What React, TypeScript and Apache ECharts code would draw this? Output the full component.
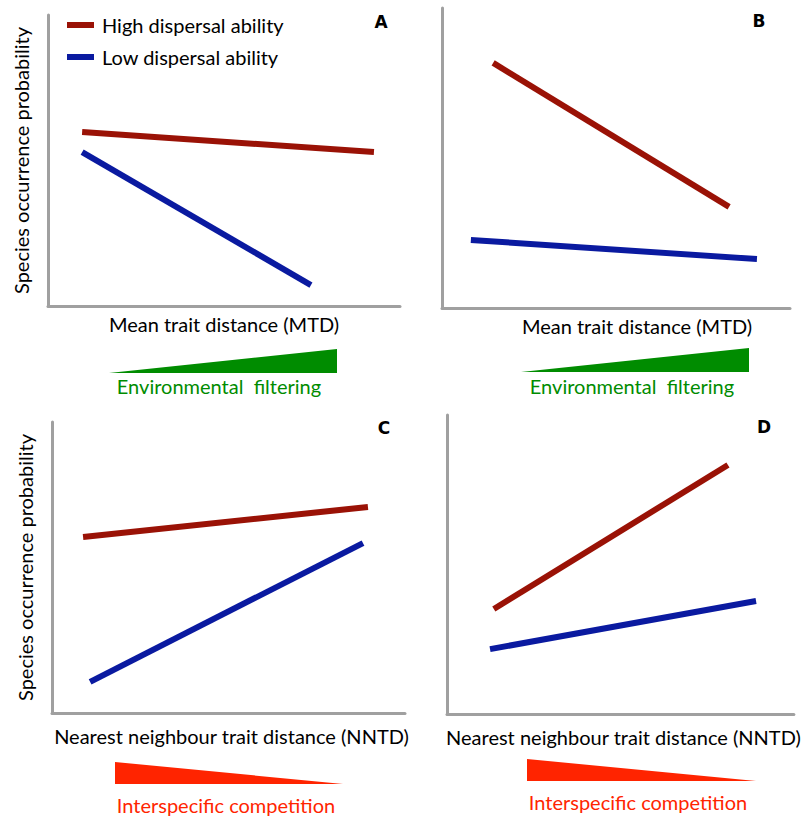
import React, { useEffect, useRef } from "react";
import * as echarts from "echarts";

// Series names
const seriesNames = ["High dispersal ability", "Low dispersal ability"];
// Panel letters
const panelLetters = ["A", "B", "C", "D"];
// Axis titles
const xTitles = [
  "Mean trait distance (MTD)",
  "Mean trait distance (MTD)",
  "Nearest neighbour trait distance (NNTD)",
  "Nearest neighbour trait distance (NNTD)",
];
const yTitle = "Species occurrence probability";
const gradientLabels = [
  "Environmental  filtering",
  "Environmental  filtering",
  "Interspecific competition",
  "Interspecific competition",
];

// Line endpoints per panel, axis units 0..10 ([x, y])
const highA = [[0.97, 5.98], [9.26, 5.29]];
const lowA = [[0.97, 5.29], [7.47, 0.72]];
const highB = [[1.47, 8.17], [8.25, 3.37]];
const lowB = [[0.83, 2.27], [9.05, 1.63]];
const highC = [[0.88, 6.05], [8.95, 7.08]];
const lowC = [[1.08, 1.07], [8.81, 5.84]];
const highD = [[1.35, 3.51], [8.1, 8.33]];
const lowD = [[1.24, 2.17], [8.91, 3.78]];

const highSeries = [highA, highB, highC, highD];
const lowSeries = [lowA, lowB, lowC, lowD];

const RED = "#9a1206";
const BLUE = "#0a1aa0";
const GREEN = "#008c00";
const BRIGHT = "#ff2400";
const AXIS = "#a0a0a0";
const FONT = "Lato, 'Open Sans', sans-serif";
const FS = 20;

const W = 803;
const H = 819;
const gridBoxes = [
  { x0: 48, y0: 15, x1: 400, y1: 306 },
  { x0: 442, y0: 8, x1: 790, y1: 308 },
  { x0: 52, y0: 422, x1: 405, y1: 713 },
  { x0: 447, y0: 415, x1: 795, y1: 714 },
];

export default function App() {
  const ref = useRef<HTMLDivElement>(null);
  useEffect(() => {
    if (!ref.current) return;
    const chart = echarts.init(ref.current, null, { renderer: "svg" });

    const grid = gridBoxes.map((b) => ({
      left: b.x0,
      top: b.y0,
      width: b.x1 - b.x0,
      height: b.y1 - b.y0,
    }));

    const axisLine = { show: true, lineStyle: { color: AXIS, width: 3 } };

    const xAxis = gridBoxes.map((b, i) => ({
      type: "value",
      gridIndex: i,
      min: 0,
      max: 10,
      axisLine,
      axisTick: { show: false },
      axisLabel: { show: false },
      splitLine: { show: false },
      name: xTitles[i],
      nameLocation: "middle",
      nameGap: i >= 2 ? 13 : 8,
      nameTextStyle: {
        fontFamily: FONT,
        fontSize: FS,
        color: "#000",
        padding: i === 1 ? [0, 0, 0, 42] : i === 0 ? [0, 0, 0, 0] : [0, 0, 0, 6],
      },
    }));

    const yAxis = gridBoxes.map((b, i) => ({
      type: "value",
      gridIndex: i,
      min: 0,
      max: 10,
      axisLine,
      axisTick: { show: false },
      axisLabel: { show: false },
      splitLine: { show: false },
      name: i % 2 === 0 ? yTitle : "",
      nameLocation: "middle",
      nameRotate: 90,
      nameGap: 17,
      nameTextStyle: { fontFamily: FONT, fontSize: FS, color: "#000" },
    }));

    const series: any[] = [];
    for (let i = 0; i < 4; i++) {
      series.push({
        type: "line",
        name: seriesNames[0],
        xAxisIndex: i,
        yAxisIndex: i,
        data: highSeries[i],
        symbol: "none",
        color: RED,
        lineStyle: { color: RED, width: 6, cap: "butt" },
      });
      series.push({
        type: "line",
        name: seriesNames[1],
        xAxisIndex: i,
        yAxisIndex: i,
        data: lowSeries[i],
        symbol: "none",
        color: BLUE,
        lineStyle: { color: BLUE, width: 6, cap: "butt" },
      });
    }

    const letterPos = [
      [381, 22],
      [759, 21],
      [384, 428],
      [764, 427],
    ];

    const trianglesUp = [
      [[109, 373], [337, 373], [337, 349]],
      [[521, 372], [749, 372], [749, 348]],
    ];
    const trianglesDown = [
      [[115, 762], [115, 784], [343, 784]],
      [[527, 759], [527, 781], [756, 781]],
    ];
    const gradTextPos = [
      [219, 386],
      [632, 386],
      [226, 805],
      [638, 802],
    ];

    const graphic: any[] = [];
    letterPos.forEach((p, i) =>
      graphic.push({
        type: "text",
        x: p[0],
        y: p[1],
        style: {
          text: panelLetters[i],
          fontFamily: "'DejaVu Sans', Arial, sans-serif",
          fontWeight: "bold",
          fontSize: 17,
          fill: "#000",
          align: "center",
          verticalAlign: "middle",
        },
      })
    );
    trianglesUp.forEach((pts) =>
      graphic.push({ type: "polygon", shape: { points: pts }, style: { fill: GREEN } })
    );
    trianglesDown.forEach((pts) =>
      graphic.push({ type: "polygon", shape: { points: pts }, style: { fill: BRIGHT } })
    );
    gradTextPos.forEach((p, i) =>
      graphic.push({
        type: "text",
        x: p[0],
        y: p[1],
        style: {
          text: gradientLabels[i],
          fontFamily: FONT,
          fontSize: FS,
          fill: i < 2 ? GREEN : BRIGHT,
          align: "center",
          verticalAlign: "middle",
        },
      })
    );

    chart.setOption({
      animation: false,
      backgroundColor: "#fff",
      grid,
      xAxis,
      yAxis,
      legend: {
        left: 62,
        top: 10,
        orient: "vertical",
        itemGap: 12,
        icon: "rect",
        itemWidth: 27,
        itemHeight: 6,
        selectedMode: false,
        data: seriesNames,
        textStyle: {
          fontFamily: FONT,
          fontSize: FS,
          color: "#000",
          padding: [0, 0, 9, 3],
        },
      },
      series,
      graphic,
    });

    return () => chart.dispose();
  }, []);

  return (
    <div
      ref={ref}
      style={{ position: "absolute", left: 0, top: 0, width: W, height: H }}
    />
  );
}
